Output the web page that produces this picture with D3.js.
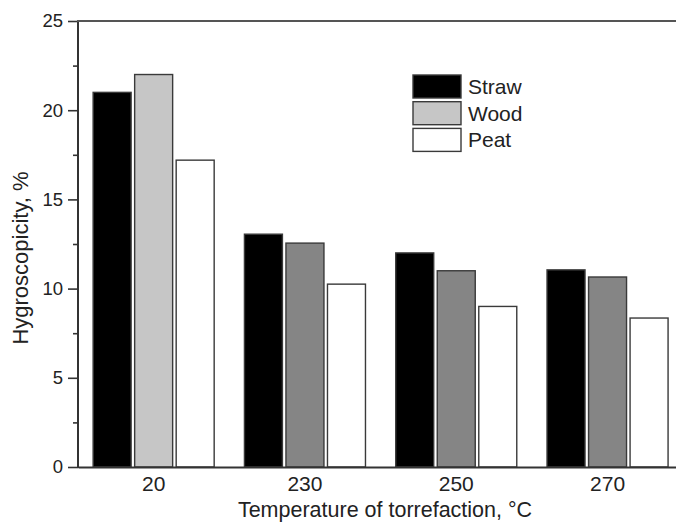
<!DOCTYPE html>
<html>
<head>
<meta charset="utf-8">
<script src="https://cdn.jsdelivr.net/npm/d3@7"></script>
<style>
  body { margin: 0; background: #fff; }
  text { font-family: "Liberation Sans", Arial, sans-serif; fill: #222; }
</style>
</head>
<body>
<div id="chart"></div>
<script>
var width = 676,
    height = 523;

// data
var temps = ["20", "230", "250", "270"];
var series = ["Straw", "Wood", "Peat"];
var straw = [21.0, 13.05, 12.0, 11.05];
var wood = [22.0, 12.55, 11.0, 10.65];
var peat = [17.2, 10.25, 9.0, 8.35];
var yTicks = [0, 5, 10, 15, 20, 25];

var values = { Straw: straw, Wood: wood, Peat: peat };

// fill per series; wood at 20 °C is the light grey, the rest darker
var fills = { Straw: "#000", Wood: "#c6c6c6", Peat: "#fff" };
var woodDark = "#858585";

var mLeft = 78, mTop = 21, mBottom = 467;

var svg = d3.select("#chart").append("svg")
    .attr("width", width)
    .attr("height", height);

var x = d3.scaleBand()
    .domain(temps)
    .range([mLeft, mLeft + 4 * 151.3])
    .paddingInner(0.2)
    .paddingOuter(0.1);

var xs = d3.scaleBand()
    .domain(series)
    .range([0, x.bandwidth()])
    .paddingInner(0.085)
    .paddingOuter(0);

var y = d3.scaleLinear()
    .domain([0, 25])
    .range([mBottom, mTop]);

// bars
var groups = svg.append("g").selectAll("g")
    .data(temps)
    .enter().append("g")
    .attr("transform", function(d) { return "translate(" + x(d) + ",0)"; });

groups.selectAll("rect")
    .data(function(t, i) {
      return series.map(function(s) { return { s: s, v: values[s][i], i: i }; });
    })
    .enter().append("rect")
    .attr("x", function(d) { return xs(d.s); })
    .attr("y", function(d) { return y(d.v); })
    .attr("width", xs.bandwidth())
    .attr("height", function(d) { return y(0) - y(d.v); })
    .attr("fill", function(d) {
      if (d.s == "Wood" && d.i > 0) return woodDark;
      return fills[d.s];
    })
    .attr("stroke", "#3a3a3a")
    .attr("stroke-width", 1.4);

// y axis, major + minor ticks
var yAxis = svg.append("g")
    .attr("transform", "translate(" + mLeft + ",0)")
    .call(d3.axisLeft(y).tickValues(yTicks).tickSize(10).tickPadding(5));

svg.append("g")
    .attr("transform", "translate(" + mLeft + ",0)")
    .call(d3.axisLeft(y).tickValues([2.5, 7.5, 12.5, 17.5, 22.5]).tickSize(5).tickFormat(""))
    .select(".domain").remove();

svg.selectAll(".tick line").attr("stroke", "#333").attr("stroke-width", 1.6);
yAxis.select(".domain").attr("stroke", "#333").attr("stroke-width", 2).attr("d", "M0," + (mBottom + 1) + "V" + mTop);
yAxis.selectAll("text").style("font-size", "18.5px").attr("fill", "#222");

// x axis: no ticks, line runs off the right edge
var xAxis = svg.append("g")
    .attr("transform", "translate(0," + mBottom + ")")
    .call(d3.axisBottom(x).tickSize(0).tickPadding(9));
xAxis.select(".domain").attr("stroke", "#333").attr("stroke-width", 2);
xAxis.selectAll("text").style("font-size", "21px").attr("fill", "#222");

// top frame line
svg.append("line")
    .attr("x1", mLeft - 1).attr("x2", width)
    .attr("y1", mTop).attr("y2", mTop)
    .attr("stroke", "#555")
    .attr("stroke-width", 2);

// axis titles
svg.append("text")
    .attr("x", 385)
    .attr("y", 517)
    .attr("text-anchor", "middle")
    .style("font-size", "21.5px")
    .text("Temperature of torrefaction, °C");

svg.append("text")
    .attr("transform", "translate(28,258)rotate(-90)")
    .attr("text-anchor", "middle")
    .style("font-size", "22px")
    .text("Hygroscopicity, %");

// legend
var legend = svg.append("g")
    .attr("transform", "translate(413,75)");

var items = legend.selectAll("g")
    .data(series)
    .enter().append("g")
    .attr("transform", function(d, i) { return "translate(0," + i * 26.7 + ")"; });

items.append("rect")
    .attr("width", 48)
    .attr("height", 23)
    .attr("fill", function(d) { return fills[d]; })
    .attr("stroke", "#3a3a3a")
    .attr("stroke-width", 1.4);

items.append("text")
    .attr("x", 55)
    .attr("y", 19)
    .style("font-size", "21px")
    .text(String);
</script>
</body>
</html>
